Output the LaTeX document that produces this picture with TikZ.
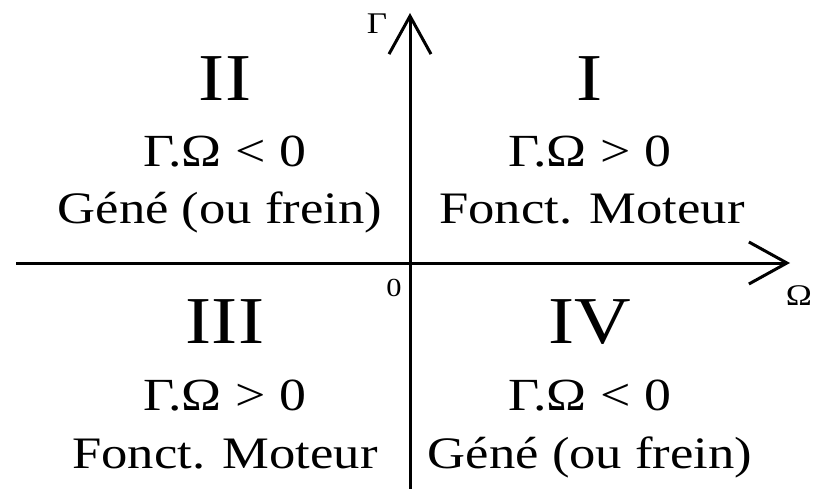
\documentclass[tikz,border=0pt]{standalone}
\usepackage{fontspec}
\setmainfont{Liberation Serif}[FakeStretch=1.17]
\usepackage{tikz}
\usetikzlibrary{arrows.meta, positioning}

\begin{document}
\begin{tikzpicture}[
    x=1pt, y=-1pt,
    axis/.style={line width=3pt, -{Straight Barb[length=38pt, width=42pt]}},
    quadnum/.style={anchor=base, font=\fontsize{67}{70}\selectfont},
    cond/.style={anchor=base, font=\fontsize{46}{48}\selectfont},
    mode/.style={anchor=base, font=\fontsize{45}{48}\selectfont},
    axlabel/.style={font=\fontsize{30}{32}\selectfont}
]
\useasboundingbox (0,0) rectangle (814,489);

% Axes
\coordinate (west) at (16,263);
\coordinate (east) at (790,263);
\coordinate (south) at (410,489);
\coordinate (north) at (410,13);
\draw[axis] (west) -- (east);
\draw[axis] (south) -- (north);

\node[axlabel] (gam) at (377,24) {Γ};
\node[axlabel, inner sep=0pt] (om) at (799,296) {Ω};
\node[font=\fontsize{26}{28}\selectfont] (orig) at (394,288) {0};

% Quadrant I
\node[quadnum] (q1) at (590,101) {I};
\node[cond] (c1) at (590,167) {Γ.Ω > 0};
\node[mode] (m1) at (592,224) {Fonct. Moteur};

% Quadrant II
\node[quadnum] (q2) at (225,101) {II};
\node[cond] (c2) at (225,167) {Γ.Ω < 0};
\node[mode] (m2) at (220,224) {Géné (ou frein)};

% Quadrant III
\node[quadnum] (q3) at (225,343) {III};
\node[cond] (c3) at (225,410) {Γ.Ω > 0};
\node[mode] (m3) at (225,468) {Fonct. Moteur};

% Quadrant IV
\node[quadnum] (q4) at (590,343) {IV};
\node[cond] (c4) at (590,410) {Γ.Ω < 0};
\node[mode] (m4) at (590,468) {Géné (ou frein)};

\end{tikzpicture}
\end{document}
